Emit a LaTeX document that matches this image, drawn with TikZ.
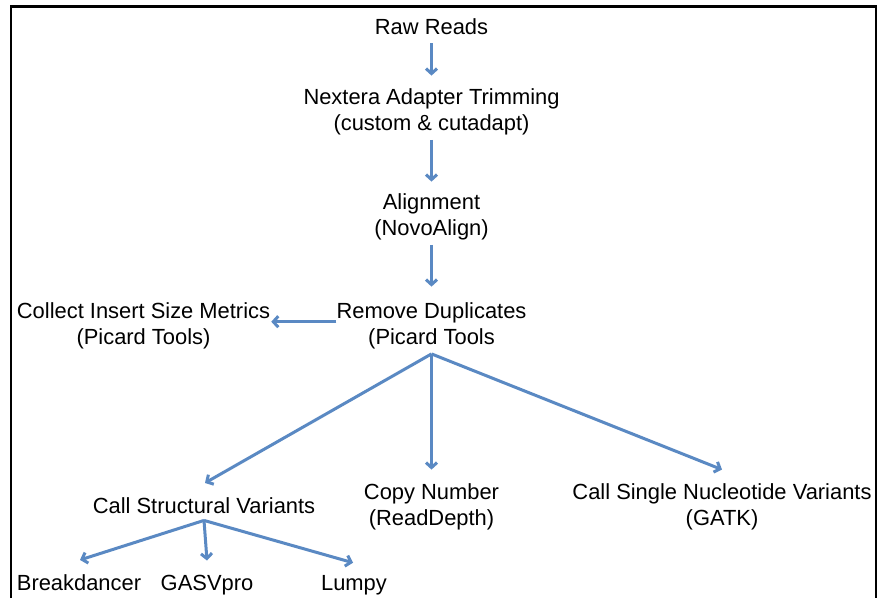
\documentclass[tikz,border=0pt]{standalone}
\usepackage{fontspec}
\setmainfont{Liberation Sans}
\usetikzlibrary{arrows.meta}
\definecolor{arrblue}{RGB}{90,137,195}
\begin{document}
\begin{tikzpicture}[x=1pt,y=-1pt,
  lbl/.style={inner sep=0pt,align=center,font=\fontsize{21.9}{26}\selectfont},
  arr/.style={draw=arrblue,line width=3pt,-{Straight Barb[length=5pt,width=11pt]}},
  plain/.style={draw=arrblue,line width=3pt}]
\useasboundingbox (0,0) rectangle (877,598);
\fill[white] (0,0) rectangle (877,598);
\draw[line width=2.2pt] (11,598) -- (11,6.5) -- (876.5,6.5) -- (876.5,598);
% nodes
\node[lbl] (raw) at (431.5,27) {Raw Reads};
\node[lbl] (nextera) at (431.5,112) {Nextera Adapter Trimming\\(custom \& cutadapt)};
\node[lbl] (align) at (431.5,217) {Alignment\\(NovoAlign)};
\node[lbl] (remove) at (431.5,326) {Remove Duplicates\\(Picard Tools};
\node[lbl] (collect) at (143.5,326) {Collect Insert Size Metrics\\(Picard Tools)};
\node[lbl,anchor=base] (csv) at (204,513) {Call Structural Variants};
\node[lbl] (cn) at (431.5,507) {Copy Number\\(ReadDepth)};
\node[lbl] (snv) at (722,507) {Call Single Nucleotide Variants\\(GATK)};
\node[lbl,anchor=base] (bd) at (79,590) {Breakdancer};
\node[lbl,anchor=base] (gas) at (207,590) {GASVpro};
\node[lbl,anchor=base] (lumpy) at (354,590) {Lumpy};
% branch points
\coordinate (b1) at ([yshift=-4.5pt]remove.south);
\coordinate (b2) at ([yshift=-7pt]csv.south);
% connectors
\draw[arr] ([yshift=-8pt]raw.south) -- ([yshift=13pt]nextera.north);
\draw[arr] ([yshift=-4.5pt]nextera.south) -- ([yshift=12pt]align.north);
\draw[arr] ([yshift=-4.5pt]align.south) -- ([yshift=16pt]remove.north);
\draw[arr] ([yshift=4.3pt]remove.west) -- ([xshift=1pt,yshift=4.3pt]collect.east);
\draw[arr] (b1) -- ([yshift=14pt,xshift=1pt]csv.north);
\draw[arr] (b1) -- ([yshift=14pt]cn.north);
\draw[arr] (b1) -- ([yshift=14pt]snv.north);
\draw[arr] (b2) -- ([yshift=14pt,xshift=1pt]bd.north);
\draw[arr] (b2) -- ([yshift=14pt]gas.north);
\draw[arr] (b2) -- ([yshift=12pt,xshift=-1pt]lumpy.north);
\end{tikzpicture}
\end{document}
